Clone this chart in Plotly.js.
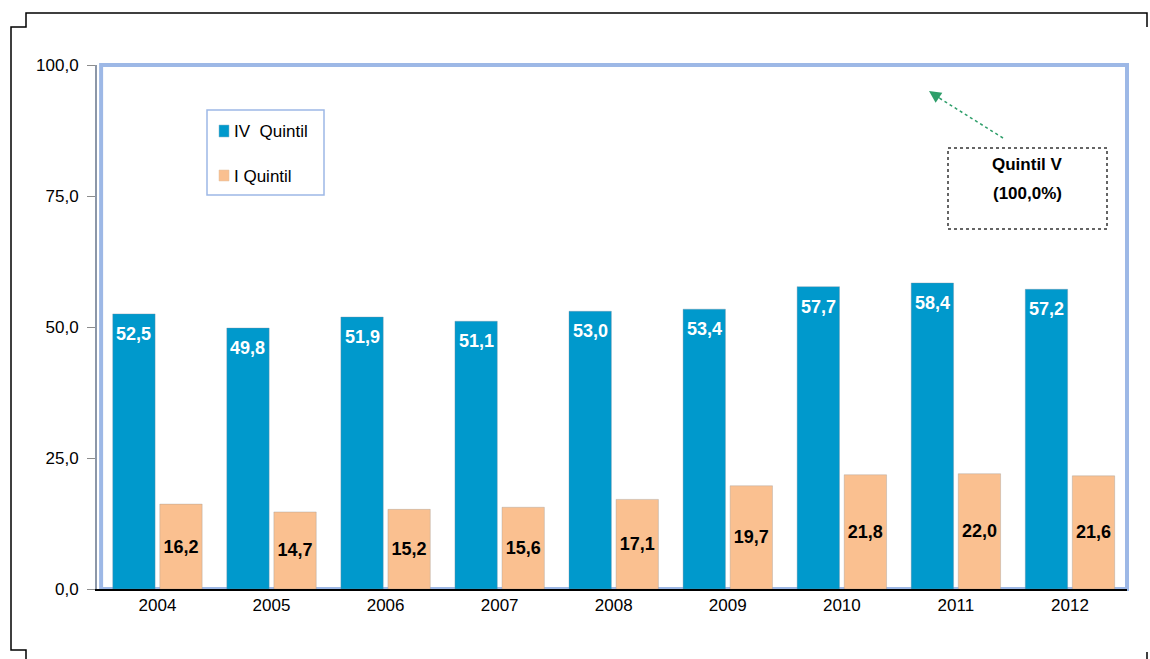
<!DOCTYPE html>
<html>
<head>
<meta charset="utf-8">
<script src="https://cdn.plot.ly/plotly-3.0.1.min.js"></script>
<style>
  html, body { margin: 0; padding: 0; background: #fff; }
  #myDiv { width: 1150px; height: 659px; }
</style>
</head>
<body>
<div id="myDiv"></div>
<script>
let anios = ['2004', '2005', '2006', '2007', '2008', '2009', '2010', '2011', '2012'];
let quintilIV = [52.5, 49.8, 51.9, 51.1, 53.0, 53.4, 57.7, 58.4, 57.2];
let quintilI = [16.2, 14.7, 15.2, 15.6, 17.1, 19.7, 21.8, 22.0, 21.6];
let ticksY = [0, 25, 50, 75, 100];

// margenes del area del grafico (px)
let L = 97, R = 23, T = 65, B = 70;
let W = 1150, H = 659;
let anchoPlot = W - L - R, altoPlot = H - T - B;
// pasar de pixel a coordenadas paper (solo para adornos)
let px = (X) => (X - L) / anchoPlot;
let py = (Y) => (H - B - Y) / altoPlot;

let coma = (v) => v.toFixed(1).replace('.', ',');

let fuente = 'Liberation Sans, Arial, sans-serif';
let fuenteNum = 'Liberation Sans Narrow, Arial Narrow, Liberation Sans, sans-serif';

let rangoX = [-0.53, 8.5];
let bargap = 0.175;
// desplazamiento (px) del centro de la barra azul respecto a la categoria
let anchoCat = anchoPlot / (rangoX[1] - rangoX[0]);
let despAzul = -anchoCat * (1 - bargap) / 4;

var data = [
    {
        x: anios,
        y: quintilIV,
        name: 'IV  Quintil',
        type: 'bar',
        marker: { color: '#0099CC', line: { color: 'rgba(120,140,160,0.35)', width: 1 } },
        hoverinfo: 'x+y'
    },
    {
        x: anios,
        y: quintilI,
        name: 'I Quintil',
        type: 'bar',
        marker: { color: '#FAC090', line: { color: 'rgba(150,150,150,0.35)', width: 1 } },
        text: quintilI.map(coma),
        textposition: 'inside',
        insidetextanchor: 'middle',
        textfont: { family: fuenteNum, size: 18, color: '#000000', weight: 'bold' },
        constraintext: 'none',
        hoverinfo: 'x+y'
    }
];

// etiquetas blancas de la serie IV, un poco bajo el tope de la barra
let etiquetasAzules = anios.map((a, i) => ({
    xref: 'x', yref: 'y', x: i, y: quintilIV[i],
    xshift: despAzul, yshift: -20, yanchor: 'middle',
    text: '<b>' + coma(quintilIV[i]) + '</b>', showarrow: false,
    font: { family: fuenteNum, size: 18, color: '#ffffff' }
}));

let marco = 'M' + px(1147) + ',' + py(27) + ' L' + px(1147) + ',' + py(13) +
    ' L' + px(26) + ',' + py(13) + ' L' + px(26) + ',' + py(27) +
    ' L' + px(11) + ',' + py(27) + ' L' + px(11) + ',' + py(650) +
    ' L' + px(26) + ',' + py(650) + ' L' + px(26) + ',' + py(662);

var layout = {
    width: W,
    height: H,
    margin: { l: L, r: R, t: T, b: B, pad: 0 },
    separators: ',.',
    barmode: 'group',
    bargap: bargap,
    bargroupgap: 0.1,
    showlegend: false,
    font: { family: fuente, size: 17, color: '#000' },
    xaxis: {
        type: 'category',
        range: rangoX,
        showline: true,
        linecolor: '#000',
        linewidth: 1.5,
        ticks: '',
        tickfont: { family: fuente, size: 17, color: '#000' },
        fixedrange: true
    },
    yaxis: {
        range: [0, 100],
        tickvals: ticksY,
        tickformat: '.1f',
        showgrid: false,
        zeroline: false,
        showline: true,
        linecolor: '#8C97A8',
        linewidth: 2,
        ticks: 'outside',
        ticklen: 8,
        tickcolor: '#8C8C8C',
        ticklabelstandoff: 5,
        tickfont: { family: fuente, size: 17, color: '#000' },
        fixedrange: true
    },
    shapes: [
        // borde azul del area
        { type: 'rect', xref: 'paper', yref: 'paper', x0: 0.004, x1: 1, y0: 0, y1: 1,
          line: { color: '#9DB8E6', width: 4 }, layer: 'below' },
        // marco exterior
        { type: 'path', xref: 'paper', yref: 'paper', path: marco,
          line: { color: '#000', width: 1.5 } },
        { type: 'line', xref: 'paper', yref: 'paper', x0: px(1147), x1: px(1147), y0: py(652), y1: py(662),
          line: { color: '#000', width: 1.5 } },
        // leyenda
        { type: 'rect', xref: 'paper', yref: 'paper', x0: px(207), x1: px(324), y0: py(195), y1: py(110),
          line: { color: '#9DB8E6', width: 1.5 }, fillcolor: '#fff' },
        { type: 'rect', xref: 'paper', yref: 'paper', x0: px(219), x1: px(229), y0: py(137), y1: py(125),
          line: { color: '#8CB4C8', width: 0.5 }, fillcolor: '#0099CC' },
        { type: 'rect', xref: 'paper', yref: 'paper', x0: px(219), x1: px(229), y0: py(181), y1: py(170),
          line: { color: '#E0C0A0', width: 0.5 }, fillcolor: '#FAC090' },
        // caja Quintil V
        { type: 'rect', xref: 'paper', yref: 'paper', x0: px(948), x1: px(1107), y0: py(229), y1: py(148),
          line: { color: '#333', width: 1.5, dash: 'dot' }, fillcolor: '#fff' },
        // flecha punteada
        { type: 'line', xref: 'paper', yref: 'paper', x0: px(1003), y0: py(138), x1: px(936), y1: py(96),
          line: { color: '#2E9E6A', width: 1.5, dash: 'dot' } }
    ],
    annotations: etiquetasAzules.concat([
        { xref: 'paper', yref: 'paper', x: px(232), y: py(131), xanchor: 'left', yanchor: 'middle',
          text: 'IV  Quintil', showarrow: false, font: { family: fuente, size: 17, color: '#000' } },
        { xref: 'paper', yref: 'paper', x: px(232), y: py(176), xanchor: 'left', yanchor: 'middle',
          text: 'I Quintil', showarrow: false, font: { family: fuente, size: 17, color: '#000' } },
        { xref: 'paper', yref: 'paper', x: px(1027), y: py(164), xanchor: 'center', yanchor: 'middle',
          text: '<b>Quintil V</b>', showarrow: false,
          font: { family: fuenteNum, size: 17, color: '#000' } },
        { xref: 'paper', yref: 'paper', x: px(1027), y: py(193), xanchor: 'center', yanchor: 'middle',
          text: '<b>(100,0%)</b>', showarrow: false,
          font: { family: fuenteNum, size: 17, color: '#000' } },
        { xref: 'paper', yref: 'paper', x: px(929), y: py(91), text: '', showarrow: true,
          axref: 'pixel', ayref: 'pixel', ax: 12, ay: 8,
          arrowhead: 2, arrowsize: 1.6, arrowwidth: 1.5, arrowcolor: '#2E9E6A', standoff: 0 }
    ]),
    plot_bgcolor: '#fff',
    paper_bgcolor: '#fff'
};

Plotly.newPlot('myDiv', data, layout, { displayModeBar: false, staticPlot: true });
</script>
</body>
</html>
